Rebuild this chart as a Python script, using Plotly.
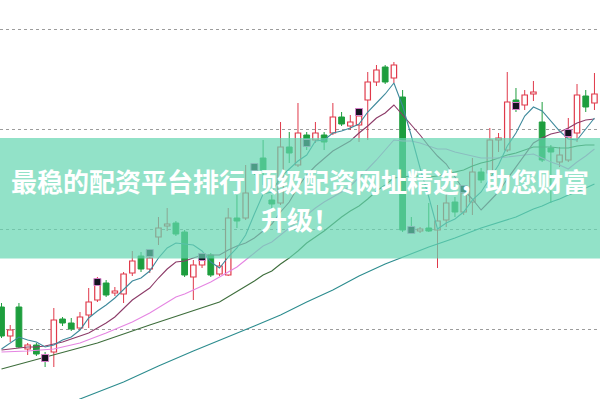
import plotly.graph_objects as go

# ---- candle data (price) ----
opens = [10.22, 9.93, 10.22, 9.80, 9.84, 9.74, 9.77, 10.10, 10.06, 10.01,
         10.14, 10.29, 10.46, 10.36, 10.35, 10.56, 10.73, 10.60, 10.92, 11.03,
         11.06, 10.97, 10.52, 10.64, 10.74, 10.55, 10.54, 11.11, 11.11, 11.64,
         11.71, 11.29, 11.26, 11.82, 11.64, 11.94, 11.89, 11.94, 11.96, 12.12,
         12.03, 12.04, 12.29, 12.47, 12.62, 12.51, 12.32, 11.01, 10.98, 11.01,
         10.99, 11.09, 11.27, 11.17, 11.27, 11.57, 11.56, 11.89, 11.79, 12.29,
         12.24, 12.35, 12.07, 11.81, 11.67, 11.69, 11.96, 12.33, 12.26]
closes = [9.93, 9.99, 9.82, 9.84, 9.75, 9.70, 10.09, 10.06, 10.00, 10.12,
          10.27, 10.45, 10.34, 10.38, 10.55, 10.68, 10.60, 10.71, 11.01, 11.05,
          10.95, 10.54, 10.64, 10.70, 10.54, 10.63, 11.11, 11.08, 11.36, 11.59,
          11.59, 11.25, 11.82, 11.76, 11.96, 11.89, 11.96, 11.87, 12.12, 12.05,
          12.07, 12.13, 12.47, 12.59, 12.47, 12.64, 10.99, 10.97, 11.00, 10.98,
          11.08, 11.26, 11.17, 11.36, 11.57, 11.49, 11.89, 11.91, 12.27, 12.23,
          12.34, 12.37, 11.69, 11.77, 11.74, 11.92, 12.34, 12.22, 12.35]
highs = [10.26, 10.04, 10.26, 9.86, 9.86, 9.77, 10.21, 10.12, 10.11, 10.17,
         10.41, 10.52, 10.49, 10.42, 10.57, 10.78, 10.77, 10.79, 11.12, 11.21,
         11.08, 10.99, 10.69, 10.76, 10.76, 10.67, 11.21, 11.34, 11.64, 11.66,
         11.89, 11.34, 12.07, 11.97, 12.26, 11.97, 12.07, 11.97, 12.26, 12.17,
         12.14, 12.21, 12.57, 12.64, 12.64, 12.67, 12.39, 11.12, 11.02, 11.26,
         11.24, 11.36, 11.32, 11.42, 11.71, 11.61, 12.01, 11.96, 12.57, 12.41,
         12.39, 12.48, 12.27, 11.84, 11.82, 12.11, 12.45, 12.39, 12.56]
lows = [9.91, 9.87, 9.81, 9.74, 9.73, 9.62, 9.62, 10.03, 9.98, 9.99,
        10.01, 10.27, 10.32, 10.33, 10.26, 10.53, 10.57, 10.56, 10.84, 10.98,
        10.93, 10.52, 10.29, 10.61, 10.52, 10.53, 10.53, 11.01, 11.09, 11.54,
        11.44, 11.21, 11.24, 11.66, 11.62, 11.79, 11.86, 11.79, 11.94, 12.03,
        11.99, 11.87, 11.89, 12.43, 12.45, 12.46, 10.97, 10.95, 10.96, 10.97,
        10.61, 11.02, 11.12, 11.14, 11.14, 11.46, 11.52, 11.77, 11.77, 12.17,
        12.19, 12.28, 11.67, 11.26, 11.62, 11.67, 11.87, 12.17, 12.19]

# special dark markers (index, price)
mark_idx = [5, 11, 17, 23, 29, 35, 41, 47, 53, 59, 65]
mark_val = [9.71, 10.47, 10.76, 10.72, 11.62, 11.86, 12.17, 10.99, 11.40, 12.23, 11.96]

# ---- moving average lines (index, price) ----
ma5_idx = list(range(69))
ma5_val = [9.80, 9.86, 9.92, 9.89, 9.87, 9.82, 9.84, 9.89, 9.92, 9.99,
           10.11, 10.18, 10.24, 10.31, 10.40, 10.48, 10.51, 10.58, 10.71, 10.81,
           10.86, 10.85, 10.84, 10.78, 10.67, 10.61, 10.72, 10.81, 10.94, 11.15,
           11.35, 11.37, 11.52, 11.60, 11.68, 11.74, 11.88, 11.89, 11.96, 11.98,
           12.01, 12.05, 12.17, 12.26, 12.35, 12.46, 12.23, 11.93, 11.61, 11.32,
           11.00, 11.06, 11.10, 11.17, 11.29, 11.37, 11.50, 11.64, 11.83, 11.96,
           12.13, 12.22, 12.18, 12.08, 11.98, 11.90, 11.89, 12.00, 12.11]
ma10_idx = list(range(69))
ma10_val = [9.79, 9.80, 9.81, 9.82, 9.82, 9.83, 9.85, 9.87, 9.90, 9.93,
            9.96, 10.01, 10.06, 10.12, 10.20, 10.29, 10.35, 10.41, 10.51, 10.60,
            10.67, 10.68, 10.71, 10.74, 10.74, 10.74, 10.79, 10.83, 10.86, 10.91,
            10.98, 11.05, 11.17, 11.27, 11.42, 11.54, 11.63, 11.71, 11.78, 11.83,
            11.88, 11.96, 12.03, 12.11, 12.16, 12.24, 12.14, 12.05, 11.94, 11.83,
            11.73, 11.65, 11.52, 11.39, 11.30, 11.19, 11.28, 11.37, 11.50, 11.62,
            11.75, 11.86, 11.91, 11.95, 11.97, 12.01, 12.06, 12.09, 12.10]
ma20_idx = [0, 3, 6, 9, 12, 15, 17] + list(range(19, 69))
ma20_val = [9.77, 9.78, 9.80, 9.86, 9.96, 10.07, 10.16,
            10.27, 10.32, 10.35, 10.39, 10.43, 10.47, 10.52, 10.57, 10.62, 10.69,
            10.76, 10.83, 10.87, 10.94, 11.01, 11.08, 11.14, 11.21, 11.27, 11.32,
            11.37, 11.43, 11.51, 11.60, 11.69, 11.79, 11.89, 11.88, 11.88, 11.86,
            11.83, 11.80, 11.80, 11.77, 11.75, 11.73, 11.71, 11.71, 11.71, 11.72,
            11.73, 11.74, 11.75, 11.71, 11.67, 11.64, 11.60, 11.67, 11.73, 11.80]
ma30_idx = [0, 6, 11, 17, 23, 25] + list(range(29, 69))
ma30_val = [9.60, 9.74, 9.86, 10.04, 10.21, 10.27,
            10.48, 10.54, 10.58, 10.65, 10.71, 10.78, 10.86, 10.92, 10.98, 11.05,
            11.12, 11.18, 11.23, 11.30, 11.38, 11.44, 11.51, 11.52, 11.53, 11.53,
            11.52, 11.53, 11.55, 11.57, 11.59, 11.63, 11.66, 11.68, 11.71, 11.74,
            11.76, 11.79, 11.82, 11.82, 11.82, 11.81, 11.81, 11.83, 11.84, 11.84]
ma60_idx = [8, 9, 14, 18, 22, 26, 29, 32, 35, 38, 41, 44, 46, 49, 52, 55,
            59, 60, 61, 62, 63, 64, 65, 66, 67, 68]
ma60_val = [9.26, 9.30, 9.47, 9.63, 9.78, 9.92, 10.03, 10.14, 10.27, 10.39,
            10.53, 10.65, 10.72, 10.82, 10.91, 11.01, 11.12, 11.16, 11.20, 11.23,
            11.27, 11.30, 11.34, 11.37, 11.41, 11.45]

title_line1 = "最稳的配资平台排行 顶级配资网址精选，助您财富"
title_line2 = "升级！"

UP = "#e0394a"
DOWN = "#1e9e3e"

n = len(opens)
idx = list(range(n))
up = [i for i in idx if closes[i] >= opens[i]]
dn = [i for i in idx if closes[i] < opens[i]]

fig = go.Figure()

# wicks
def wick_xy(ids, split):
    xs, ys = [], []
    for i in ids:
        top = max(opens[i], closes[i])
        bot = min(opens[i], closes[i])
        if split:
            xs += [i, i, None, i, i, None]
            ys += [highs[i], top, None, bot, lows[i], None]
        else:
            xs += [i, i, None]
            ys += [highs[i], lows[i], None]
    return xs, ys

wx, wy = wick_xy(up, True)
fig.add_trace(go.Scatter(x=wx, y=wy, mode="lines", line=dict(color=UP, width=1),
                         hoverinfo="skip"))
wx, wy = wick_xy(dn, False)
fig.add_trace(go.Scatter(x=wx, y=wy, mode="lines", line=dict(color=DOWN, width=1),
                         hoverinfo="skip"))

# bodies
fig.add_trace(go.Bar(x=up, base=[opens[i] for i in up],
                     y=[max(closes[i] - opens[i], 0.015) for i in up],
                     width=0.62, marker=dict(color="white", line=dict(color=UP, width=1.2))))
fig.add_trace(go.Bar(x=dn, base=[closes[i] for i in dn],
                     y=[max(opens[i] - closes[i], 0.015) for i in dn],
                     width=0.66, marker=dict(color=DOWN, line=dict(color=DOWN, width=1))))

# moving averages
for xi, yv, col in [(ma60_idx, ma60_val, "#2c8c8e"),
                    (ma30_idx, ma30_val, "#3e6e3c"),
                    (ma20_idx, ma20_val, "#e585e2"),
                    (ma10_idx, ma10_val, "#8c3b68"),
                    (ma5_idx, ma5_val, "#3f8a9c")]:
    fig.add_trace(go.Scatter(x=xi, y=yv, mode="lines", line=dict(color=col, width=1.1),
                             hoverinfo="skip"))

# markers
fig.add_trace(go.Scatter(x=mark_idx, y=mark_val, mode="markers",
                         marker=dict(symbol="square", size=7, color="#141420",
                                     line=dict(color="#d67fc8", width=1))))

fig.update_layout(
    width=600, height=399,
    margin=dict(l=0, r=0, t=0, b=0),
    paper_bgcolor="white", plot_bgcolor="white",
    showlegend=False, barmode="overlay",
    xaxis=dict(range=[-0.172, 68.635], visible=False, fixedrange=True),
    yaxis=dict(range=[9.30, 13.29], showgrid=True, gridcolor="#9c9c9c", griddash="dot",
               gridwidth=1, zeroline=False, showticklabels=False, ticks="",
               dtick=1, tick0=10, showline=False, fixedrange=True),
    shapes=[dict(type="rect", xref="paper", yref="paper", x0=0, x1=1,
                 y0=1 - 258.5 / 399, y1=1 - 138 / 399, layer="above",
                 fillcolor="rgba(100,214,176,0.70)", line=dict(width=0))],
    annotations=[
        dict(text=title_line1, xref="paper", yref="paper", x=0.5, y=1 - 180 / 399,
             xanchor="center", yanchor="middle", showarrow=False,
             font=dict(family="Noto Sans CJK SC", size=26, color="white", weight="bold")),
        dict(text=title_line2, xref="paper", yref="paper", x=0.5, y=1 - 218 / 399,
             xanchor="center", yanchor="middle", showarrow=False,
             font=dict(family="Noto Sans CJK SC", size=26, color="white", weight="bold")),
    ],
)

fig.write_html("out.html", config={"displayModeBar": False})
